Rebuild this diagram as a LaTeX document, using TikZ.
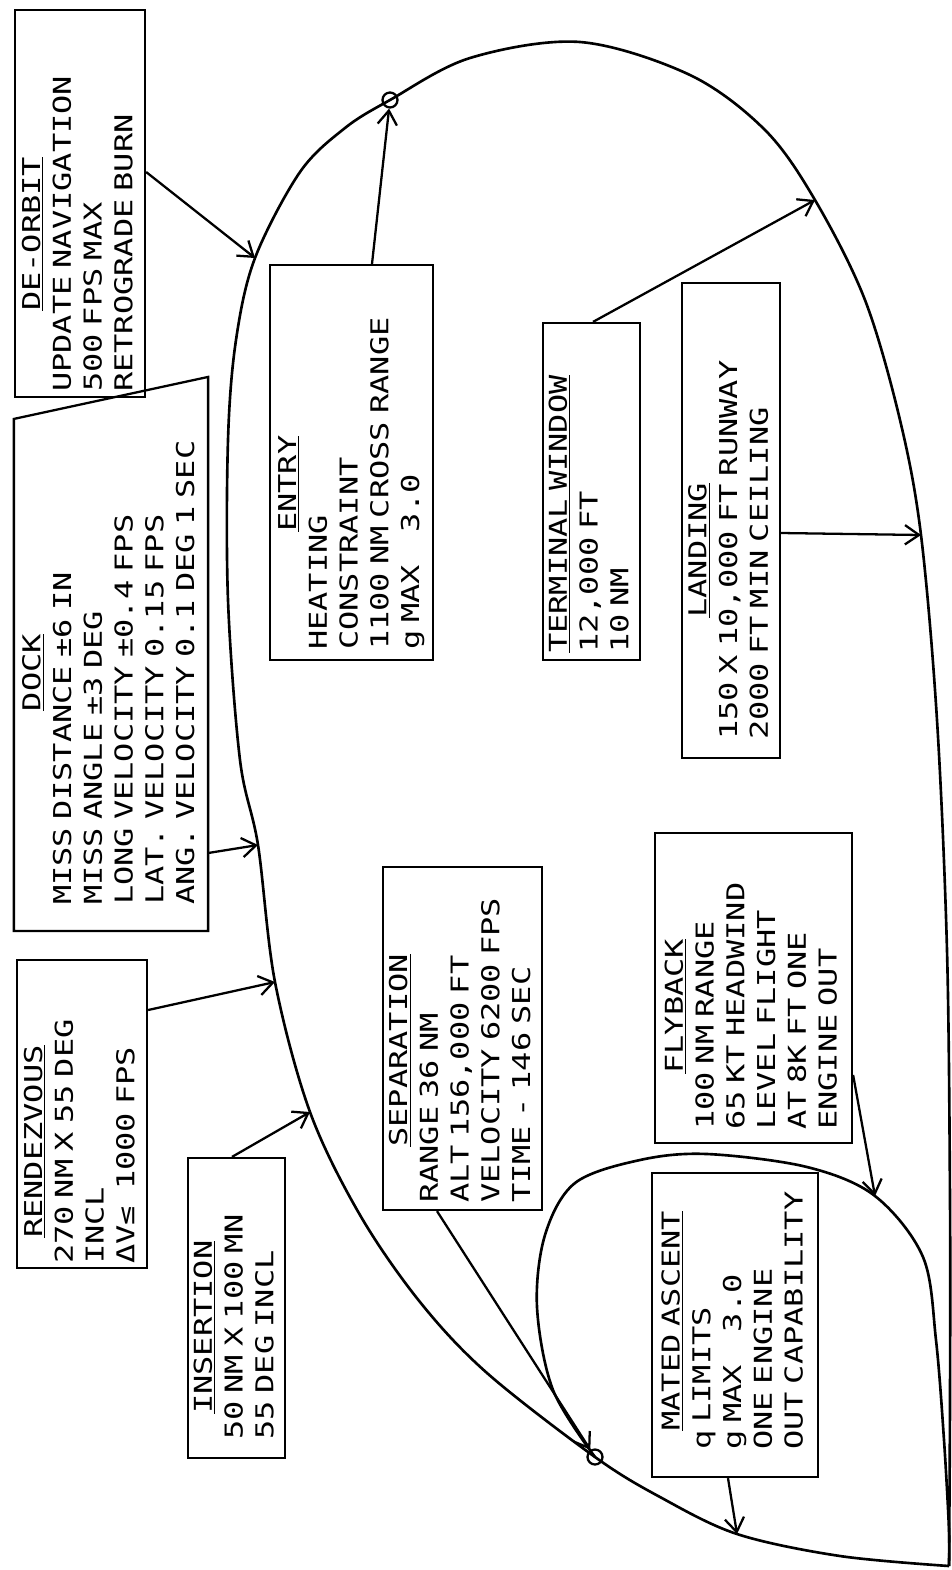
\documentclass[tikz,border=0pt]{standalone}
\usepackage{fontspec}
\usetikzlibrary{arrows.meta,calc}
\newfontfamily\typer[FakeStretch=1.3]{DejaVu Sans Mono}
\newcommand{\hd}[1]{\multicolumn{1}{@{}c@{}}{\underline{#1}}}
\newcommand{\typeset}{\typer\fontsize{14}{17.5}\selectfont\frenchspacing
  \spaceskip=\fontcharwd\font`0\relax}
\tikzset{
  card/.style  = {draw, rotate=90, align=left, line width=1.3pt,
                  inner xsep=0pt, inner ysep=0pt, font=\typeset},
  pin/.style   = {draw, line width=1.3pt,
                  -{Straight Barb[length=8pt,width=11pt]}},
  track/.style = {draw, line width=1.5pt},
  ring/.style  = {circle, draw, line width=1.3pt,
                  minimum size=0.3cm, inner sep=0pt}
}

\begin{document}
\begin{tikzpicture}[x=0.02cm, y=-0.02cm]
  \useasboundingbox (0,0) rectangle (951,1570);

  % points on the flight path
  \coordinate (launch) at (949,1566);
  \coordinate (asc)    at (737,1534);
  \coordinate (sep)    at (595,1457);
  \coordinate (ins)    at (310,1112);
  \coordinate (rdv)    at (275,982);
  \coordinate (dck)    at (258,845);
  \coordinate (deo)    at (255,258);
  \coordinate (ent)    at (390,100);
  \coordinate (term)   at (815,200);
  \coordinate (land)   at (921,535);
  \coordinate (fly)    at (875,1196);

  \draw [track] plot [smooth, tension=0.55] coordinates {
    (launch) (840,1556) (asc) (660,1497) (sep) (487,1373) (420,1302)
    (360,1215) (ins) (rdv) (dck) (240,760) (228,600) (228,440) (236,340)
    (deo) (300,172) (345,128) (ent) (470,58) (580,42) (690,75) (765,130)
    (term) (865,300) (900,420) (land) (937,720) (947,950) (950,1200)
    (950,1400) (launch)};
  \draw [track] plot [smooth, tension=0.55] coordinates {
    (sep) (553,1390) (537,1307) (545,1235) (575,1183) (640,1160)
    (707,1154) (807,1167) (fly) (923,1257) (936,1340) (944,1440)
    (949,1530) (launch)};

  \node [ring] (sepdot) at (sep) {};
  \node [ring] (entdot) at (ent) {};

  \node [card, minimum width=7.74cm, minimum height=2.6cm, text width=7.54cm]
    (deorbit) at (80,203.5) {\noindent\begin{tabular}{@{}l@{}}
      \hd{DE-ORBIT}\\ UPDATE NAVIGATION\\ 500 FPS MAX\\ RETROGRADE BURN
    \end{tabular}};
  \node [card, draw=none, minimum width=11.04cm, minimum height=3.84cm,
         text width=10.04cm]
    (dock) at (111,654) {\noindent\begin{tabular}{@{}l@{}}
      \hd{DOCK}\\ MISS DISTANCE ±6 IN\\ MISS ANGLE ±3 DEG\\
      LONG VELOCITY ±0.4 FPS\\ LAT. VELOCITY 0.15 FPS\\
      ANG. VELOCITY 0.1 DEG 1 SEC
    \end{tabular}};
  \draw [line width=1.3pt] (dock.north west) -- (dock.south west)
    -- (dock.south east) -- ($(dock.north east)+(0,42)$) -- cycle;
  \node [card, minimum width=6.16cm, minimum height=2.6cm, text width=6cm]
    (rendezvous) at (82,1114) {\noindent\begin{tabular}{@{}l@{}}
      \hd{RENDEZVOUS}\\ 270 NM X 55 DEG\\ INCL\\ ΔV≤~~1000 FPS
    \end{tabular}};
  \node [card, minimum width=6cm, minimum height=1.94cm, text width=5.28cm]
    (insertion) at (236.5,1308) {\noindent\begin{tabular}{@{}l@{}}
      \hd{INSERTION}\\ 50 NM X 100 MN\\ 55 DEG INCL
    \end{tabular}};
  \node [card, minimum width=6.86cm, minimum height=3.18cm, text width=6.58cm]
    (separation) at (462.5,1038.5) {\noindent\begin{tabular}{@{}l@{}}
      \hd{SEPARATION}\\ RANGE 36 NM\\ ALT 156,000 FT\\
      VELOCITY 6200 FPS\\ TIME - 146 SEC
    \end{tabular}};
  \node [card, minimum width=7.9cm, minimum height=3.26cm, text width=7.5cm]
    (entry) at (351.5,462.5) {\noindent\begin{tabular}{@{}l@{}}
      \hd{ENTRY}\\ HEATING\\ CONSTRAINT\\ 1100 NM CROSS RANGE\\
      g MAX~~~~3.0
    \end{tabular}};
  \node [card, minimum width=6.74cm, minimum height=1.94cm, text width=6.46cm]
    (terminal) at (591.5,491.5) {\noindent\begin{tabular}{@{}l@{}}
      \hd{TERMINAL WINDOW}\\ 12,000 FT\\ 10 NM
    \end{tabular}};
  \node [card, minimum width=9.5cm, minimum height=1.96cm, text width=8.78cm]
    (landing) at (731,520.5) {\noindent\begin{tabular}{@{}l@{}}
      \hd{LANDING}\\ 150 X 10,000 FT RUNWAY\\ 2000 FT MIN CEILING
    \end{tabular}};
  \node [card, minimum width=6.2cm, minimum height=3.94cm, text width=5.68cm]
    (flyback) at (753.5,988) {\noindent\begin{tabular}{@{}l@{}}
      \hd{FLYBACK}\\ 100 NM RANGE\\ 65 KT HEADWIND\\ LEVEL FLIGHT\\
      AT 8K FT ONE\\ ENGINE OUT
    \end{tabular}};
  \node [card, minimum width=6.08cm, minimum height=3.32cm, text width=5cm]
    (mated) at (735,1325) {\noindent\begin{tabular}{@{}l@{}}
      \hd{MATED ASCENT}\\ q LIMITS\\ g MAX~~~~3.0\\ ONE ENGINE\\
      OUT CAPABILITY
    \end{tabular}};

  \draw [pin] (deorbit.south |- 0,172) -- (deo);
  \draw [pin] (dock.south |- 0,853) -- (dck);
  \draw [pin] (rendezvous.south |- 0,1010) -- (rdv);
  \draw [pin] (insertion.east -| 232,0) -- (ins);
  \draw [pin] (separation.west -| 437,0) -- (sepdot);
  \draw [pin] (entry.east -| 372,0) -- (entdot);
  \draw [pin] (terminal.east -| 593,0) -- (term);
  \draw [pin] (landing.south |- 0,533) -- (land);
  \draw [pin] (flyback.south |- 0,1075) -- (fly);
  \draw [pin] (mated.west -| 728,0) -- (asc);
\end{tikzpicture}
\end{document}
